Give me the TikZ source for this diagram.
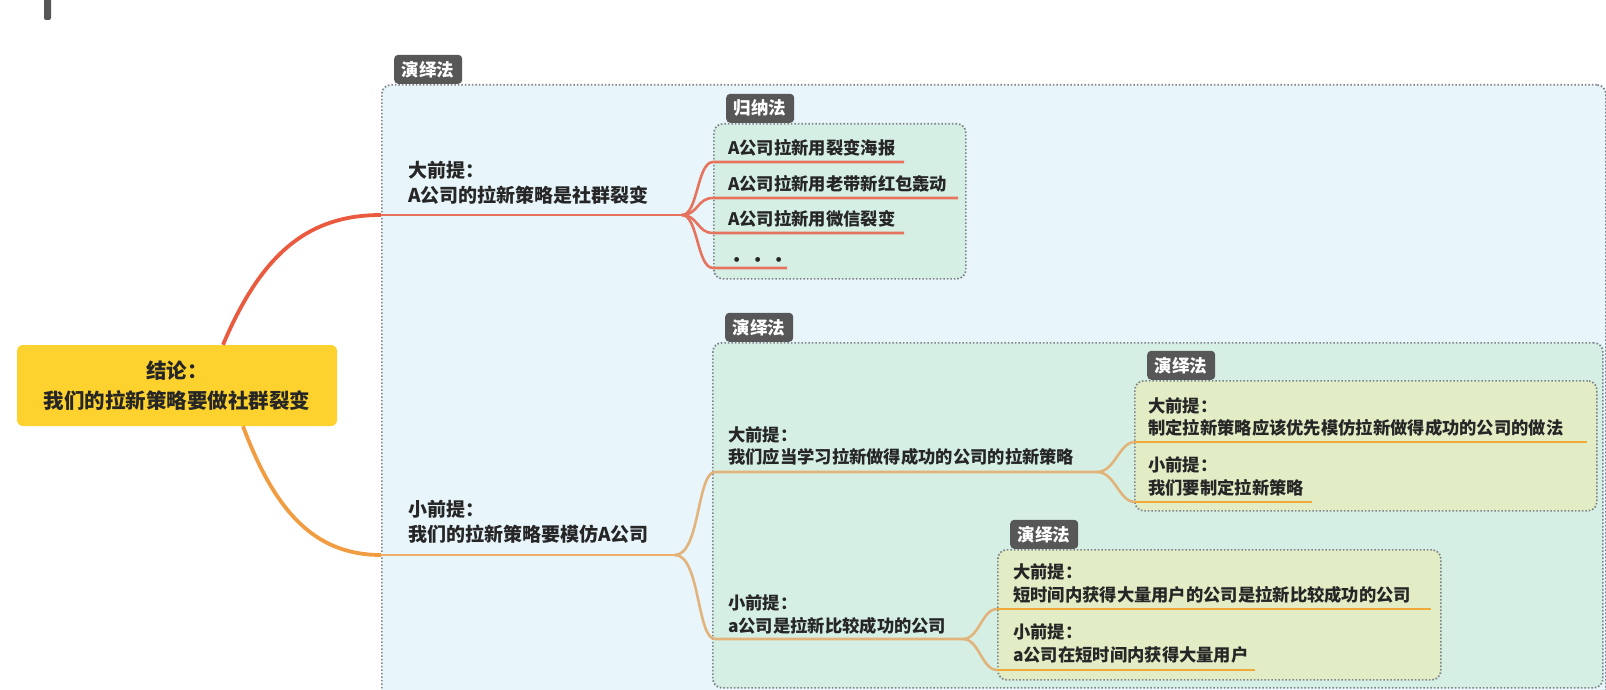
\documentclass[tikz,border=0pt]{standalone}
\usepackage{fontspec}
\newfontfamily\cjk{Noto Sans CJK SC}
\usetikzlibrary{positioning}

\definecolor{bluebg}{HTML}{E8F5FB}
\definecolor{mintbg}{HTML}{D5EFE5}
\definecolor{limebg}{HTML}{E2EDC6}
\definecolor{tabgray}{HTML}{575757}
\definecolor{dotgray}{HTML}{7E8388}
\definecolor{gold}{HTML}{FDD22F}
\definecolor{redbr}{HTML}{EA5A3E}
\definecolor{redln}{HTML}{E6735E}
\definecolor{orbr}{HTML}{F29C42}
\definecolor{orln}{HTML}{EFAE6C}
\definecolor{tanln}{HTML}{E2B47C}
\definecolor{goldln}{HTML}{EFAA3A}
\definecolor{ink}{HTML}{262626}

\tikzset{
  grpbox/.style={draw=dotgray, line width=1.7, dash pattern=on 1.6 off 1.9,
    rounded corners=9, anchor=north west, inner sep=0},
  tab/.style={fill=tabgray, text=white, rounded corners=4, anchor=south west,
    minimum width=68, minimum height=29, inner sep=0,
    font=\cjk\bfseries\fontsize{17.5}{19}\selectfont},
  lbl/.style={anchor=west, align=left, inner sep=0, text=ink,
    font=\cjk\bfseries\fontsize{17.3}{22.5}\selectfont},
  toplbl/.style={lbl, font=\cjk\bfseries\fontsize{19}{25}\selectfont},
  concl/.style={fill=gold, rounded corners=6, minimum width=320, minimum height=81,
    align=center, inner sep=0, text=ink,
    font=\cjk\bfseries\fontsize{20.5}{30}\selectfont},
  fan/.style={line width=2.6},
}

\begin{document}
\begin{tikzpicture}[x=1pt, y=-1pt]
  \useasboundingbox (0,0) rectangle (1606,690);
  \clip (0,0) rectangle (1606,690);
  \fill[tabgray, rounded corners=2] (44,-5) rectangle (51,20);

  %% group boxes
  \node[grpbox, fill=bluebg, minimum width=1224, minimum height=640] (outer) at (381,84) {};
  \node[tab] (tabOuter) at ([xshift=13]outer.north west) {演绎法};
  \node[grpbox, fill=mintbg, minimum width=252, minimum height=155] (induct) at (713,123) {};
  \node[tab] (tabInduct) at ([xshift=13]induct.north west) {归纳法};
  \node[grpbox, fill=mintbg, minimum width=890, minimum height=345] (dedA) at (712,342) {};
  \node[tab] (tabDedA) at ([xshift=13]dedA.north west) {演绎法};
  \node[grpbox, fill=limebg, minimum width=462, minimum height=130] (dedB) at (1134,380) {};
  \node[tab] (tabDedB) at ([xshift=13]dedB.north west) {演绎法};
  \node[grpbox, fill=limebg, minimum width=443, minimum height=130] (dedC) at (997,549) {};
  \node[tab] (tabDedC) at ([xshift=13]dedC.north west) {演绎法};

  %% conclusion
  \node[concl] (concl) at (177,385.5) {结论：\\我们的拉新策略要做社群裂变};

  %% first level
  \coordinate (b1s) at (381,215);
  \coordinate (b1e) at (682,215);
  \coordinate (b2s) at (381,555);
  \coordinate (b2e) at (675,555);
  \node[toplbl] (major) at (408,182.5) {大前提：\\A公司的拉新策略是社群裂变};
  \node[toplbl] (minor) at (408,522) {小前提：\\我们的拉新策略要模仿A公司};
  \draw[redbr, line width=3.8] ([xshift=46]concl.north) .. controls (263,250) and (311,215) .. (b1s);
  \draw[redln, line width=2.8] (b1s) -- (b1e);
  \draw[orbr, line width=3.8] ([xshift=66]concl.south) .. controls (275,512) and (315,555) .. (b2s);
  \draw[orln, line width=2.8] (b2s) -- (b2e);

  %% induction items
  \foreach \n/\y/\d/\e/\t in {1/162/14/904/A公司拉新用裂变海报, 2/198/14/958/A公司拉新用老带新红包轰动,
                             3/233/14/904/A公司拉新用微信裂变, 4/268/6/787/{• • •}} {
    \coordinate (it\n s) at (713,\y);
    \coordinate (it\n e) at (\e,\y);
    \node[lbl] (it\n) at (728,\y-\d) {\t};
    \draw[redln, fan] (b1e) .. controls +(16,0) and +(-16,0) .. (it\n s) -- (it\n e);
  }

  %% second level
  \coordinate (c1s) at (715,472);
  \coordinate (c1e) at (1097,472);
  \coordinate (c2s) at (715,639);
  \coordinate (c2e) at (963,639);
  \node[lbl] (learn) at (728,446) {大前提：\\我们应当学习拉新做得成功的公司的拉新策略};
  \node[lbl] (acomp) at (728,614.5) {小前提：\\a公司是拉新比较成功的公司};
  \draw[tanln, fan] (b2e) .. controls +(25,0) and +(-18,0) .. (c1s) -- (c1e);
  \draw[tanln, fan] (b2e) .. controls +(25,0) and +(-18,0) .. (c2s) -- (c2e);

  %% third level
  \coordinate (d1s) at (1135,442);
  \coordinate (d1e) at (1587,442);
  \coordinate (d2s) at (1135,502);
  \coordinate (d2e) at (1312,502);
  \node[lbl] (imit) at (1148,417) {大前提：\\制定拉新策略应该优先模仿拉新做得成功的公司的做法};
  \node[lbl] (plan) at (1148,476.5) {小前提：\\我们要制定拉新策略};
  \draw[tanln, fan] (c1e) .. controls +(18,0) and +(-16,0) .. (d1s);
  \draw[tanln, fan] (c1e) .. controls +(18,0) and +(-16,0) .. (d2s);
  \draw[goldln, fan] (d1s) -- (d1e);
  \draw[goldln, fan] (d2s) -- (d2e);

  \coordinate (e1s) at (997,609);
  \coordinate (e1e) at (1431,609);
  \coordinate (e2s) at (997,670);
  \coordinate (e2e) at (1255,670);
  \node[lbl] (users) at (1013,583.5) {大前提：\\短时间内获得大量用户的公司是拉新比较成功的公司};
  \node[lbl] (again) at (1013,643.5) {小前提：\\a公司在短时间内获得大量用户};
  \draw[tanln, fan] (c2e) .. controls +(16,0) and +(-15,0) .. (e1s);
  \draw[tanln, fan] (c2e) .. controls +(16,0) and +(-15,0) .. (e2s);
  \draw[goldln, fan] (e1s) -- (e1e);
  \draw[goldln, fan] (e2s) -- (e2e);
\end{tikzpicture}
\end{document}
